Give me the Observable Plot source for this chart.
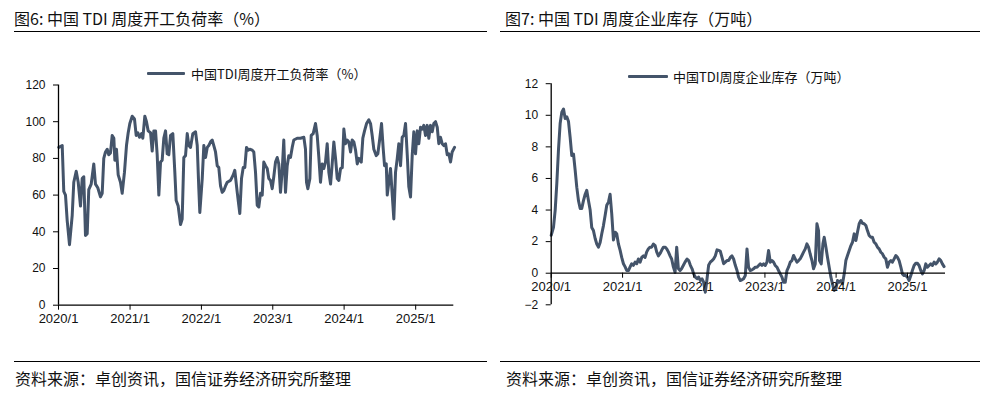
<!DOCTYPE html>
<html>
<head>
<meta charset="utf-8">
<script src="https://cdn.jsdelivr.net/npm/d3@7"></script>
<script src="https://cdn.jsdelivr.net/npm/@observablehq/plot@0.6"></script>
<style>
  html, body { margin: 0; padding: 0; background: #fff; }
  #page { position: relative; width: 984px; height: 395px; overflow: hidden; font-family: "Noto Sans CJK SC", "Noto Sans", sans-serif; color: #111; }
  .abs { position: absolute; }
  .title { font-size: 16px; line-height: 16px; white-space: nowrap; }
  .rule { height: 1px; background: #000; }
  .src { font-size: 16px; line-height: 16px; white-space: nowrap; }
  .leg { font-size: 13px; line-height: 13px; white-space: nowrap; }
  .legline { height: 3px; background: #44546A; border-radius: 1px; }
  svg { overflow: visible; }
</style>
</head>
<body>
<div id="page">
  <div class="abs title" style="left:14px; top:10px;">图6: 中国 TDI 周度开工负荷率（%）</div>
  <div class="abs rule" style="left:14px; top:31px; width:473px;"></div>
  <div class="abs title" style="left:505px; top:10px;">图7: 中国 TDI 周度企业库存（万吨）</div>
  <div class="abs rule" style="left:500px; top:31px; width:480px;"></div>

  <div id="chartL" class="abs" style="left:0px; top:60px;"></div>
  <div id="chartR" class="abs" style="left:490px; top:60px;"></div>

  <div class="abs legline" style="left:147px; top:72px; width:38px;"></div>
  <div class="abs leg" style="left:191px; top:67px;">中国TDI周度开工负荷率（%）</div>
  <div class="abs legline" style="left:628px; top:75px; width:40px;"></div>
  <div class="abs leg" style="left:673px; top:70px;">中国TDI周度企业库存（万吨）</div>

  <div class="abs rule" style="left:14px; top:361px; width:473px;"></div>
  <div class="abs src" style="left:15px; top:370px;">资料来源：卓创资讯，国信证券经济研究所整理</div>
  <div class="abs rule" style="left:500px; top:361px; width:480px;"></div>
  <div class="abs src" style="left:506px; top:370px;">资料来源：卓创资讯，国信证券经济研究所整理</div>
</div>
<script>
// ---- Data (time = years elapsed since 2020/1) ----
const xTickLabels = ["2020/1", "2021/1", "2022/1", "2023/1", "2024/1", "2025/1"];
const xDomainEnd = "2025-07-15";

const rateTicks = [0, 20, 40, 60, 80, 100, 120];
const rateT = [
  0.004,0.052,0.074,0.098,0.122,0.154,0.192,0.214,0.248,0.276,
  0.308,0.332,0.354,0.378,0.402,0.424,0.458,0.494,0.518,0.550,
  0.588,0.612,0.634,0.658,0.682,0.704,0.728,0.752,0.775,0.789,
  0.812,0.836,0.868,0.892,0.924,0.952,0.976,0.999,1.032,1.064,
  1.088,1.111,1.134,1.162,1.181,1.209,1.232,1.256,1.289,1.312,
  1.335,1.359,1.382,1.405,1.429,1.452,1.475,1.499,1.522,1.545,
  1.569,1.601,1.629,1.648,1.676,1.709,1.732,1.755,1.779,1.803,
  1.825,1.849,1.881,1.919,1.943,1.965,1.979,2.013,2.035,2.059,
  2.083,2.105,2.129,2.153,2.175,2.199,2.223,2.245,2.269,2.293,
  2.315,2.339,2.363,2.409,2.447,2.469,2.503,2.525,2.539,2.563,
  2.587,2.609,2.633,2.657,2.679,2.713,2.735,2.759,2.783,2.805,
  2.829,2.853,2.875,2.899,2.923,2.945,2.969,2.993,3.015,3.039,
  3.063,3.085,3.109,3.133,3.155,3.179,3.203,3.225,3.249,3.273,
  3.295,3.343,3.389,3.436,3.459,3.473,3.492,3.520,3.539,3.567,
  3.599,3.623,3.646,3.669,3.693,3.716,3.739,3.763,3.786,3.810,
  3.833,3.856,3.880,3.904,3.926,3.950,3.974,3.996,4.020,4.043,
  4.066,4.090,4.113,4.136,4.160,4.184,4.206,4.240,4.262,4.286,
  4.314,4.346,4.370,4.393,4.416,4.450,4.472,4.500,4.524,4.548,
  4.566,4.590,4.604,4.626,4.650,4.674,4.696,4.720,4.744,4.766,
  4.790,4.813,4.836,4.860,4.884,4.906,4.930,4.954,4.976,5.000,
  5.024,5.046,5.070,5.094,5.116,5.140,5.164,5.186,5.210,5.234,
  5.256,5.280,5.304,5.326,5.350,5.373,5.396,5.420,5.444,5.466,
  5.490,5.513,5.546
];
const rateValues = [
  86,87,62,60,46,33,49,67,73,67,
  54,69,70,38,39,63,66,77,66,64,
  59,61,80,83.5,85,82,83,92.5,91,79,
  85,71,67,61,72.5,87,94,99,103,101.5,
  92.5,94,91.5,93.5,91,103,100,95,94,84,
  95,95,82,60,78,79,91,95,82.5,82,
  92.5,93.5,72.5,57,54,44,47,80.5,81.5,93.5,
  87,86,93.5,94.5,87,63.5,50.5,69,87,80.5,
  86,87,89,90,87,83.5,76,75,65,61.5,
  62.5,65,67,68,71,73.5,61.5,54.5,50,69,
  75,75,86,84.5,85,84.5,83.5,72.5,54.5,53.5,
  61,60,78,76,74.5,69,68,63.5,70,78,
  80.5,77,61.5,73.5,90,61.5,76,81.5,80.5,86,
  90,91,91,91.5,85,67,63.5,69,92.5,93.5,
  99,92.5,80.5,67,77,74.5,78,88,72.5,66,
  77,89,80,69,68,74.5,75,96,88,90,
  89,83.5,90,89,84.5,77,80,78,91,95,
  99,101,99,92.5,85,81.5,82.5,91,99,85,
  76,77,60,67,74.5,60,47,72.5,80,88,
  76,91.5,92.5,99,82,64.5,59,82,94.5,82.5,
  95,88,97,96,98,92.5,98,91,98,94.5,
  99,100,97,88,91.5,88,87,88,82,82.5,
  78,83.5,86
];

const stockTicks = [-2, 0, 2, 4, 6, 8, 10, 12];
const stockT = [
  0.000,0.032,0.056,0.079,0.102,0.126,0.149,0.173,0.196,0.219,
  0.243,0.266,0.289,0.313,0.337,0.359,0.383,0.407,0.429,0.453,
  0.477,0.499,0.523,0.547,0.569,0.593,0.617,0.640,0.663,0.687,
  0.710,0.733,0.757,0.780,0.804,0.827,0.850,0.874,0.898,0.920,
  0.944,0.968,0.990,1.014,1.038,1.060,1.084,1.108,1.130,1.154,
  1.178,1.201,1.224,1.248,1.271,1.295,1.318,1.341,1.365,1.388,
  1.411,1.435,1.459,1.481,1.505,1.529,1.551,1.575,1.599,1.621,
  1.645,1.669,1.691,1.715,1.739,1.762,1.785,1.809,1.832,1.856,
  1.879,1.907,1.930,1.954,1.978,2.000,2.024,2.048,2.070,2.094,
  2.118,2.140,2.164,2.188,2.210,2.234,2.258,2.280,2.304,2.328,
  2.351,2.374,2.398,2.421,2.445,2.468,2.491,2.515,2.538,2.561,
  2.585,2.609,2.631,2.655,2.678,2.701,2.725,2.749,2.771,2.795,
  2.819,2.841,2.865,2.889,2.912,2.935,2.959,2.982,3.005,3.029,
  3.052,3.076,3.100,3.122,3.146,3.170,3.192,3.216,3.240,3.262,
  3.286,3.310,3.332,3.356,3.380,3.403,3.426,3.450,3.473,3.496,
  3.520,3.543,3.567,3.590,3.613,3.637,3.661,3.683,3.707,3.731,
  3.753,3.767,3.791,3.815,3.833,3.857,3.879,3.903,3.927,3.949,
  3.973,3.997,4.020,4.043,4.067,4.090,4.114,4.137,4.160,4.184,
  4.208,4.230,4.254,4.278,4.300,4.324,4.348,4.370,4.394,4.418,
  4.440,4.464,4.488,4.510,4.534,4.558,4.581,4.604,4.628,4.651,
  4.675,4.698,4.721,4.745,4.769,4.791,4.815,4.839,4.861,4.885,
  4.909,4.931,4.955,4.979,5.001,5.025,5.049,5.071,5.095,5.119,
  5.141,5.165,5.189,5.212,5.236,5.259,5.282,5.306,5.329,5.352,
  5.376,5.400,5.422,5.446,5.470,5.492,5.516
];
const stockValues = [
  2.4,2.9,4.0,5.7,7.8,9.5,10.2,10.4,9.8,9.9,
  9.6,8.6,7.45,7.55,6.5,5.45,4.6,4.1,4.1,4.6,
  5.0,5.25,4.6,4.0,2.9,2.7,2.2,1.85,1.65,1.95,
  2.5,3.0,3.65,4.3,4.5,5.0,3.75,2.1,2.6,2.5,
  1.85,1.45,1.0,0.6,0.4,0.17,0.17,0.4,0.6,0.5,
  0.7,0.6,0.9,0.7,1.0,1.1,1.0,1.35,1.55,1.65,
  1.65,1.85,1.75,1.35,1.1,1.25,1.45,1.65,1.65,1.55,
  1.35,1.1,0.9,0.4,0.05,1.65,0.3,0.17,0.3,0.5,
  0.7,0.9,0.8,0.5,0.28,-0.04,-0.25,-0.35,-0.25,-0.46,
  -0.35,-0.57,-1.2,-0.35,0.5,0.7,0.8,0.9,1.1,1.48,
  1.44,1.4,1.0,0.6,0.7,0.8,0.8,1.0,1.1,0.9,
  0.5,0.17,-0.25,-0.46,-0.42,-0.35,-0.15,1.54,0.38,0.17,
  0.21,0.28,0.38,0.38,0.49,0.59,0.49,0.59,0.49,0.7,
  1.44,0.7,0.8,0.7,0.49,0.38,0.17,-0.04,-0.25,-0.57,
  -0.57,0.17,0.38,0.7,0.8,1.12,0.91,0.7,0.8,0.91,
  1.12,1.33,1.54,1.86,1.65,1.2,0.8,0.28,0.59,3.13,
  2.7,0.8,0.59,1.86,2.28,1.65,1.01,0.38,-0.25,-0.67,
  -1.09,-0.99,-0.46,-0.57,-0.46,-0.67,-0.04,0.8,1.12,1.44,
  1.75,1.96,2.49,2.07,2.6,3.13,3.34,3.16,3.13,3.02,
  2.7,2.39,2.28,2.28,1.96,1.86,1.65,1.54,1.33,1.23,
  1.01,0.91,0.38,0.7,0.8,0.7,0.91,1.12,1.01,0.8,
  0.38,-0.04,-0.15,-0.15,-0.25,-0.46,-0.15,0.17,0.49,0.63,
  0.63,0.49,0.17,-0.04,0.17,0.59,0.38,0.49,0.59,0.49,
  0.7,0.59,0.7,0.91,0.8,0.59,0.42
];

// ---- Helpers ----
const start = new Date(Date.UTC(2020, 0, 1));
const toDate = t => new Date(start.getTime() + t * 365.25 * 864e5);
const parseTick = s => { const [y, m] = s.split("/").map(Number); return new Date(Date.UTC(y, m - 1, 1)); };
const xTicks = xTickLabels.map(parseTick);
const xDomain = [start, new Date(xDomainEnd + "T00:00:00Z")];
const fmtTick = d => `${d.getUTCFullYear()}/${d.getUTCMonth() + 1}`;

const rateData = rateT.map((t, i) => ({date: toDate(t), value: rateValues[i]}));
const stockData = stockT.map((t, i) => ({date: toDate(t), value: stockValues[i]}));

const LINE = "#44546A";
const AX = "#000";
const font = "'Liberation Sans', Arial, sans-serif";

// ---- Left chart ----
{
  const W = 490, H = 280, mt = 24.5, mb = 35.3, ml = 58, mr = 36.7;
  const chart = Plot.plot({
    width: W, height: H,
    marginTop: mt, marginBottom: mb, marginLeft: ml, marginRight: mr,
    style: {fontFamily: font, background: "transparent", color: "#111", overflow: "visible"},
    x: {type: "utc", domain: xDomain},
    y: {domain: [0, 120]},
    marks: [
      Plot.lineY(rateData, {x: "date", y: "value", stroke: LINE, strokeWidth: 3}),
      Plot.ruleY([0], {stroke: AX, strokeWidth: 1.3}),
      Plot.ruleX([start], {y1: 0, y2: 120, stroke: AX, strokeWidth: 1.3}),
      Plot.axisY({ticks: rateTicks, tickSize: 5, tickPadding: 8, fontSize: 12, stroke: AX, label: null}),
      Plot.axisX({ticks: xTicks, tickFormat: fmtTick, tickSize: 5, tickPadding: 4, fontSize: 13, stroke: AX, label: null})
    ]
  });
  document.getElementById("chartL").appendChild(chart);
}

// ---- Right chart ----
{
  const W = 494, H = 280, mt = 23.2, mb = 35.7, ml = 60.7, mr = 39;
  const yDom = [-2, 12];
  const zeroShift = (H - mt - mb) * (0 - yDom[0]) / (yDom[1] - yDom[0]);
  const chart = Plot.plot({
    width: W, height: H,
    marginTop: mt, marginBottom: mb, marginLeft: ml, marginRight: mr,
    style: {fontFamily: font, background: "transparent", color: "#111", overflow: "visible"},
    x: {type: "utc", domain: xDomain},
    y: {domain: yDom},
    marks: [
      Plot.lineY(stockData, {x: "date", y: "value", stroke: LINE, strokeWidth: 3}),
      Plot.ruleY([0], {stroke: AX, strokeWidth: 1.3}),
      Plot.ruleX([start], {y1: yDom[0], y2: yDom[1], stroke: AX, strokeWidth: 1.3}),
      Plot.axisY({ticks: stockTicks, tickSize: 5, tickPadding: 8, fontSize: 12, stroke: AX, label: null}),
      Plot.axisX({ticks: xTicks, tickFormat: fmtTick, tickSize: 5, tickPadding: 4, fontSize: 13, stroke: AX, label: null, dy: -zeroShift})
    ]
  });
  document.getElementById("chartR").appendChild(chart);
}
</script>
</body>
</html>
